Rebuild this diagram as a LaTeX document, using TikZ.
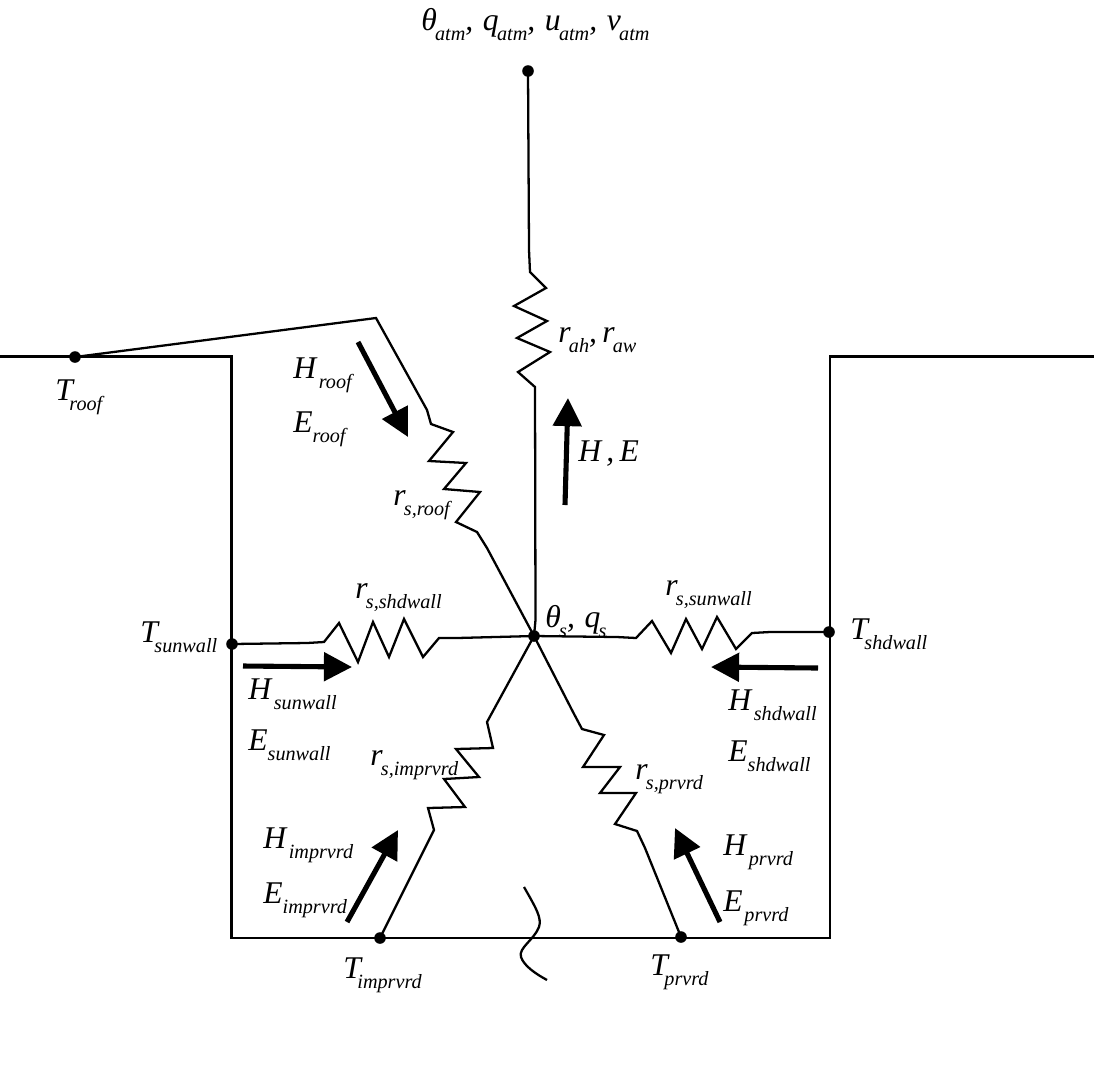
\documentclass[tikz,border=0pt]{standalone}
\usepackage{fontspec}
\setmainfont{Liberation Serif}
\usepackage{tikz}
\usetikzlibrary{arrows.meta}
\newcommand{\sbs}[3][-1pt]{#2\kern#1\raisebox{-6pt}{\fontsize{11.5}{12}\selectfont #3}}

\begin{document}
\begin{tikzpicture}[
  x=0.02cm, y=-0.02cm,
  wire/.style={draw=black, line width=1.3pt, line join=miter},
  tempdot/.style={circle, fill=black, inner sep=0pt, minimum size=6.6pt},
  flow/.style={draw=black, line width=2.9pt, -{Triangle[length=16pt, width=16pt]}},
  lab/.style={anchor=base west, inner sep=0pt, font=\fontsize{18}{20}\selectfont\itshape}
]
\useasboundingbox (0,0) rectangle (1094,1089);

% Canyon outline.
\draw[wire] (0,356.5) -- (231.5,356.5) -- (231.5,938) -- (830,938) -- (830,356.5) -- (1094,356.5);
\draw[wire] (524,887) .. controls (536,908) and (542,918) .. (539,927) .. controls (534,940) and (518,948) .. (521,957) .. controls (524,966) and (536,974) .. (547,980);

% Temperature points.
\foreach \n/\x/\y in {atm/528/71,roof/75/357,surf/534/636,sunwall/232/644,shdwall/829/632,imprvrd/380/938,prvrd/681/937} {
  \node[tempdot] (\n) at (\x,\y) {};
}

% Resistances.
\draw[wire] (atm.center) -- (529,250) -- (530,272) -- (546,288) -- (514,306) -- (547,321) -- (517,338) -- (550,352) -- (518,372) -- (535,387) -- (535.5,620) -- (surf.center);
\draw[wire] (roof.center) -- (376,318) -- (427,410) -- (431,424) -- (453,432) -- (429,461) -- (466,463) -- (444,489) -- (480,492) -- (456,522) -- (477,532) -- (487,548) -- (surf.center);
\draw[wire] (sunwall.center) -- (307,643) -- (324,642) -- (339,623) -- (358,662) -- (373,622) -- (389,657) -- (404,619) -- (423,657) -- (439,638) -- (457,638) -- (surf.center);
\draw[wire] (surf.center) -- (617,637) -- (636,638) -- (652,621) -- (671,653) -- (686,619) -- (702,649) -- (717,617) -- (736,649) -- (752,633) -- (770,632) -- (shdwall.center);
\draw[wire] (surf.center) -- (487,722) -- (493,748) -- (456,749) -- (479,777) -- (444,779) -- (465,807) -- (428,808) -- (434,830) -- (imprvrd.center);
\draw[wire] (surf.center) -- (573,712) -- (582,729) -- (604,735) -- (583,767) -- (620,767) -- (600,793) -- (636,793) -- (615,824) -- (637,831) -- (645,848) -- (prvrd.center);

% Flux arrows.
\foreach \n/\xa/\ya/\xb/\yb in {roof/358/342/408/437,can/565/505/568/398,sun/243/666/352/667,shd/818/668/711/667,imp/347/922/398/830,prv/720/922/675/828} {
  \coordinate (\n a) at (\xa,\ya);
  \coordinate (\n b) at (\xb,\yb);
  \draw[flow] (\n a) -- (\n b);
}

% Labels.
\node[lab] (labatm) at (421,30) {\sbs{θ}{atm},\kern5.5pt\sbs{q}{atm},\kern5.5pt\sbs{u}{atm},\kern5.5pt\sbs{v}{atm}};
\node[lab] (labsurf) at (545,627) {\sbs{θ}{s},\kern5.5pt\sbs{q}{s}};
\node[lab] (labcan) at (578,461) {H\kern3pt,\kern3pt E};
\node[lab] (labrah) at (558,342) {\sbs{r}{ah},\kern3pt\sbs{r}{aw}};
\foreach \n/\x/\y/\a/\k/\b in {troof/55/400/T/-2pt/roof,tsun/140/642/T/-2pt/sunwall,tshd/850/639/T/-2pt/shdwall,timp/343/978/T/-2pt/imprvrd,tprv/650/975/T/-2pt/prvrd,
    hroof/293/378/H/1.5pt/roof,eroof/293/432/E/0pt/roof,hsun/248/699/H/1.5pt/sunwall,esun/248/750/E/0pt/sunwall,hshd/728/710/H/1.5pt/shdwall,eshd/728/761/E/0pt/shdwall,
    himp/263/848/H/1.5pt/imprvrd,eimp/263/903/E/0pt/imprvrd,hprv/723/855/H/1.5pt/prvrd,eprv/723/911/E/1pt/prvrd} {
  \node[lab] (lab\n) at (\x,\y) {\sbs[\k]{\a}{\b}};
}
\foreach \n/\x/\y/\b in {rroof/393/505/roof,rshd/355/598/shdwall,rsun/665/595/sunwall,rimp/370/765/imprvrd,rprv/635/779/prvrd} {
  \node[lab] (lab\n) at (\x,\y) {\sbs{r}{s,\b}};
}
\end{tikzpicture}
\end{document}
